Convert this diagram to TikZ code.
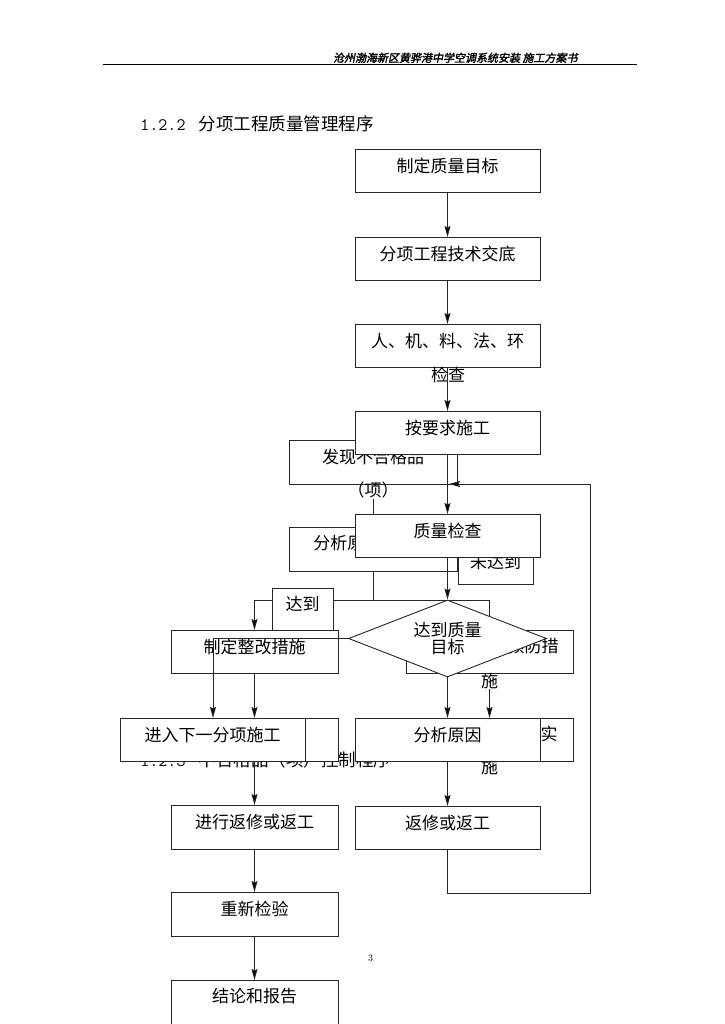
\documentclass[tikz,border=0pt]{standalone}
\usepackage{fontspec}
\usetikzlibrary{arrows.meta,shapes.geometric}
\newfontfamily\cjk{Noto Sans CJK SC}
\newfontfamily\cjkhead[FakeSlant=0.2,FakeBold=2]{Noto Sans CJK SC}

\tikzset{
  box/.style={draw=black!85, fill=white, anchor=north, minimum width=185pt,
    minimum height=43pt, text height=8pt, text depth=5pt},
  sbox/.style={box, minimum width=167pt},
  goal/.style={draw=black!85, fill=white, shape=diamond, aspect=2.6,
    minimum width=198pt, minimum height=77pt, align=center},
  link/.style={draw=black!85},
  arr/.style={link, -{Stealth[length=11pt,width=6pt,inset=1.5pt,fill=black]}},
  titletext/.style={anchor=base west, font=\fontsize{17.5}{17.5}\selectfont}
}

\begin{document}
\begin{tikzpicture}[x=1pt, y=-1pt, line width=0.9pt,
  every node/.style={font=\cjk\fontsize{17}{17}\selectfont, inner sep=0pt}]
\useasboundingbox (0,0) rectangle (724,1024);

% page head
\node[anchor=base east, font=\cjkhead\fontsize{11}{11}\selectfont] (head) at (578,62)
  {沧州渤海新区黄骅港中学空调系统安装 施工方案书};
\draw[line width=1pt] (103,65) -- (637,65);
\node[titletext] (t1) at (140,131) {{\ttfamily 1.2.2}\hspace{13pt}{\cjk 分项工程质量管理程序}};

% second chart (behind)
\node[box, minimum width=168pt, minimum height=44pt] (c1) at (373,440) {发现不合格品};
\node (c1x) at (373,490) {（项）};
\node[box, minimum width=168pt, minimum height=44pt] (c2) at (373,527) {};
\node[anchor=west] (c2t) at (313,543) {分析原因};
\node[box, minimum width=75pt, minimum height=44pt, text height=13pt, text depth=0pt] (nok) at (495.5,540) {未达到};
\node[sbox] (c3) at (254.5,630) {制定整改措施};
\node[sbox] (c4) at (489.5,630) {};
\node[anchor=east] (c4a) at (559,646) {预防措};
\node (c4x) at (489.5,681) {施};

\coordinate (j0) at (373,600);
\coordinate (jl) at (254.5,600);
\coordinate (jr) at (489.5,600);
\draw[link] (c1x.south) -- (c2.north);
\draw[link] (c2.south) -- (j0);
\draw[link] (jl) -- (jr);
\draw[arr] (jl) -- (c3.north);
\draw[arr] (jr) -- (c4.north);
\node[box, minimum width=61pt, minimum height=42pt] (ok) at (302.5,588) {达到};

\node[titletext] (t2) at (140,766) {{\ttfamily 1.2.3}\hspace{13pt}{\cjk 不合格品（项）控制程序}};
\node[sbox] (c5) at (254.5,718) {};
\node[sbox] (c6) at (489.5,718) {};
\node (c6a) at (549,734) {实};
\node (c6x) at (489.5,767) {施};
\draw[arr] (c3.south) -- (c5.north);
\draw[arr] (c4x.south) -- (c6.north);

\node[sbox, minimum height=44pt] (c7) at (254.5,805) {进行返修或返工};
\node[sbox, minimum height=44pt] (c8) at (254.5,892) {重新检验};
\node[sbox, minimum height=60pt, text height=0pt, text depth=16pt] (c9) at (254.5,980) {结论和报告};
\draw[arr] (c5) -- (c7);
\draw[arr] (c7) -- (c8);
\draw[arr] (c8) -- (c9);

\node[font=\rmfamily\fontsize{10}{10}\selectfont] (pg) at (370.5,958) {3};

% first chart (front)
\node[box] (b1) at (447.5,149) {制定质量目标};
\node[box] (b2) at (447.5,237) {分项工程技术交底};
\node[box] (b3) at (447.5,324) {人、机、料、法、环};
\node (b3x) at (448,375) {检查};
\node[box] (b4) at (447.5,411) {按要求施工};
\node[box] (b5) at (447.5,514) {质量检查};
\node[goal] (dia) at (447.5,638.5) {达到质量\\目标};
\node[box] (b6) at (212.5,718) {进入下一分项施工};
\node[box] (b7) at (447.5,718) {分析原因};
\node[box] (b8) at (447.5,806) {返修或返工};

\draw[arr] (b1) -- (b2);
\draw[arr] (b2) -- (b3);
\draw[arr] (b3) -- (b4);
\draw[arr] (b4) -- (b5);
\draw[arr] (b5) -- (dia);
\draw[arr] (dia) -- (b7);
\coordinate (nl) at (213,638.5);
\draw[arr] (dia.west) -- (nl) -- (nl |- b6.north);
\draw[arr] (b7) -- (b8);
\coordinate (back) at (590,893);
\coordinate (ret) at (449,484);
\draw[arr] (b8.south) |- (back) |- (ret);

\end{tikzpicture}
\end{document}
